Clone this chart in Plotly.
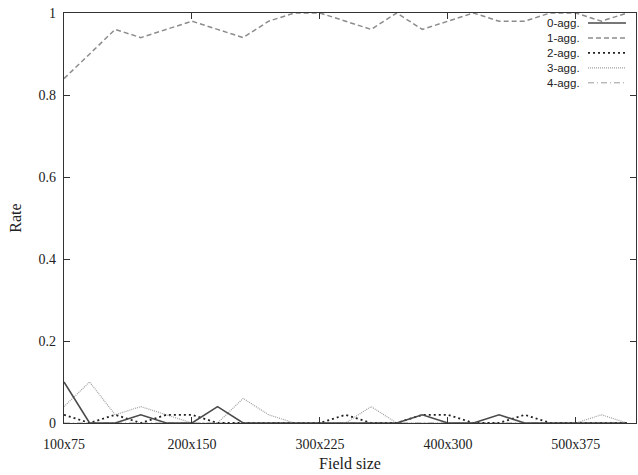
import plotly.graph_objects as go

# Field width values (x positions), every 20 from 100 to 540
widths = [100, 120, 140, 160, 180, 200, 220, 240, 260, 280, 300, 320,
          340, 360, 380, 400, 420, 440, 460, 480, 500, 520, 540]

agg0 = [0.10, 0, 0, 0.02, 0, 0, 0.04, 0, 0, 0, 0, 0,
        0, 0, 0.02, 0, 0, 0.02, 0, 0, 0, 0, 0]
agg1 = [0.84, 0.90, 0.96, 0.94, 0.96, 0.98, 0.96, 0.94, 0.98, 1.0, 1.0, 0.98,
        0.96, 1.0, 0.96, 0.98, 1.0, 0.98, 0.98, 1.0, 1.0, 0.98, 1.0]
agg2 = [0.02, 0, 0.02, 0, 0.02, 0.02, 0, 0, 0, 0, 0, 0.02,
        0, 0, 0.02, 0.02, 0, 0, 0.02, 0, 0, 0, 0]
agg3 = [0.04, 0.10, 0.02, 0.04, 0.02, 0, 0, 0.06, 0.02, 0, 0, 0,
        0.04, 0, 0, 0, 0, 0, 0, 0, 0, 0.02, 0]
agg4 = [0] * len(widths)

tick_vals = [100, 200, 300, 400, 500]
tick_text = ["100x75", "200x150", "300x225", "400x300", "500x375"]
y_ticks = [0, 0.2, 0.4, 0.6, 0.8, 1]
y_text = ["0", "0.2", "0.4", "0.6", "0.8", "1"]

names = ["0-agg.", "1-agg.", "2-agg.", "3-agg.", "4-agg."]
series = [agg0, agg1, agg2, agg3, agg4]
styles = [
    dict(color="#4a4a4a", width=1.6, dash="solid"),
    dict(color="#8c8c8c", width=1.5, dash="5px,3px"),
    dict(color="#222222", width=1.8, dash="2px,3px"),
    dict(color="#a0a0a0", width=1.2, dash="1px,1px"),
    dict(color="#9a9a9a", width=1.0, dash="6px,3px,1px,3px"),
]

fig = go.Figure()
for i in [4, 3, 2, 1, 0]:
    fig.add_trace(go.Scatter(x=widths, y=series[i], mode="lines", name=names[i],
                             line=styles[i], showlegend=False))

# Custom gnuplot-style legend (text right aligned, sample to the right)
L, T, W, H = 64, 13, 572, 410
fs = 11.5
step = 1.3 * fs
first = 23
fig.add_annotation(xref="paper", yref="paper", x=(581 - L) / W,
                   y=(T + H - (first - step / 2)) / H,
                   text="<br>".join(names), showarrow=False, align="right",
                   xanchor="right", yanchor="top", borderpad=0,
                   font=dict(family="Liberation Sans, Arial", size=fs, color="#222"))
for k, st in enumerate(styles):
    py = first + k * step
    yp = (T + H - py) / H
    fig.add_shape(type="line", xref="paper", yref="paper",
                  x0=(588 - L) / W, x1=(626 - L) / W, y0=yp, y1=yp,
                  line=dict(color=st["color"], width=st["width"], dash=st["dash"]))

fig.update_layout(
    width=638, height=475,
    margin=dict(l=64, r=2, t=13, b=52),
    plot_bgcolor="white", paper_bgcolor="white",
    font=dict(family="Liberation Serif, Times New Roman, serif", size=14, color="#222"),
    xaxis=dict(range=[100, 547], tickvals=tick_vals, ticktext=tick_text,
               ticks="inside", ticklen=6, tickcolor="#333", showline=True,
               linecolor="#333", linewidth=1.2, mirror="ticks", showgrid=False,
               zeroline=False, ticklabelstandoff=8,
               title=dict(text="Field size", standoff=6, font=dict(size=16)),
               tickfont=dict(size=14)),
    yaxis=dict(range=[0, 1], tickvals=y_ticks, ticktext=y_text,
               ticks="inside", ticklen=6, tickcolor="#333", showline=True,
               linecolor="#333", linewidth=1.2, mirror="ticks", showgrid=False,
               zeroline=False, ticklabelstandoff=4,
               title=dict(text="Rate", standoff=12, font=dict(size=16)),
               tickfont=dict(size=14)),
)

fig.write_html("out.html")
